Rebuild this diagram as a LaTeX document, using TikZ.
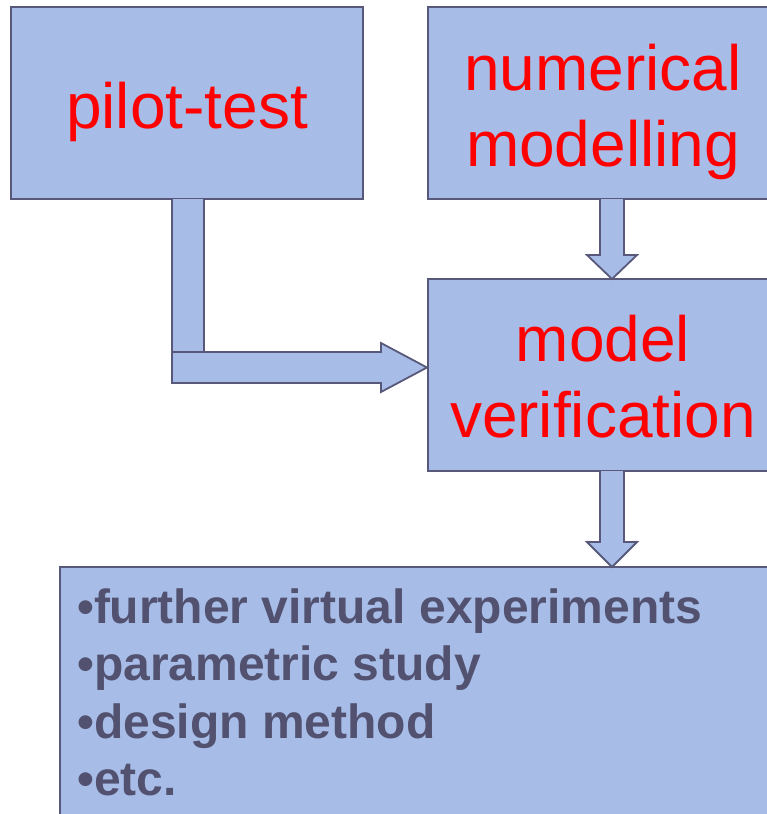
\documentclass[tikz,border=0pt]{standalone}
\usepackage{fontspec}
\setmainfont{Liberation Sans}
\usetikzlibrary{calc}
\definecolor{boxfill}{RGB}{167,189,232}
\definecolor{boxline}{RGB}{88,88,122}
\definecolor{listtext}{RGB}{82,82,112}
\tikzset{
  box/.style={draw=boxline, fill=boxfill, line width=1.8pt, inner sep=0pt, outer sep=0pt,
    minimum width=352pt, minimum height=192pt},
  blockarrow/.style={draw=boxline, fill=boxfill, line width=1.8pt, line join=miter},
  redtext/.style={text=red, inner sep=0pt, anchor=base, font=\fontsize{64}{75}\selectfont},
  listline/.style={text=listtext, inner sep=0pt, anchor=base west, font=\fontsize{48}{57}\selectfont\bfseries}
}
\begin{document}
\begin{tikzpicture}[x=1pt, y=-1pt]
  \useasboundingbox (0,0) rectangle (767,814);
  \clip (0,0) rectangle (767,814);

  % boxes
  \node[box] (pilot) at (187,103) {};
  \node[box] (num)   at (604,103) {};
  \node[box] (verif) at (604,375) {};
  \node[box, minimum width=860pt, minimum height=400pt, anchor=north west] (result) at (60,567) {};

  % labels
  \node[redtext] (pilotA) at (187,128) {pilot-test};
  \node[redtext] (numA)   at (603,90)  {numerical};
  \node[redtext] (numB)   at (603,166) {modelling};
  \node[redtext] (verA)   at (603,361) {model};
  \node[redtext] (verB)   at (603,437) {verification};

  \node[listline] (li1) at (77,623) {•further virtual experiments};
  \node[listline] (li2) at (77,680) {•parametric study};
  \node[listline] (li3) at (77,738) {•design method};
  \node[listline] (li4) at (77,795) {•etc.};

  % numerical modelling -> model verification
  \coordinate (a1) at ($(num.south)+(8,0)$);
  \draw[blockarrow] ($(a1)+(-12,0)$) -- ($(a1)+(-12,56)$) -- ($(a1)+(-25,56)$)
    -- (a1 |- verif.north) -- ($(a1)+(25,56)$) -- ($(a1)+(12,56)$) -- ($(a1)+(12,0)$);

  % model verification -> results
  \coordinate (a2) at ($(verif.south)+(8,0)$);
  \draw[blockarrow] ($(a2)+(-12,0)$) -- ($(a2)+(-12,71)$) -- ($(a2)+(-25,71)$)
    -- (a2 |- result.north) -- ($(a2)+(25,71)$) -- ($(a2)+(12,71)$) -- ($(a2)+(12,0)$);

  % pilot-test -> model verification (bent arrow)
  \coordinate (b0) at (172,199);
  \coordinate (tip) at (verif.west |- 0,367.5);
  \draw[blockarrow] (b0) -- (172,352) -- (204,352) -- (204,199);
  \draw[blockarrow] (172,352) -- (381,352) -- (381,343) -- ($(tip)+(-1,0)$)
    -- (381,392) -- (381,383) -- (172,383) -- cycle;
\end{tikzpicture}
\end{document}
